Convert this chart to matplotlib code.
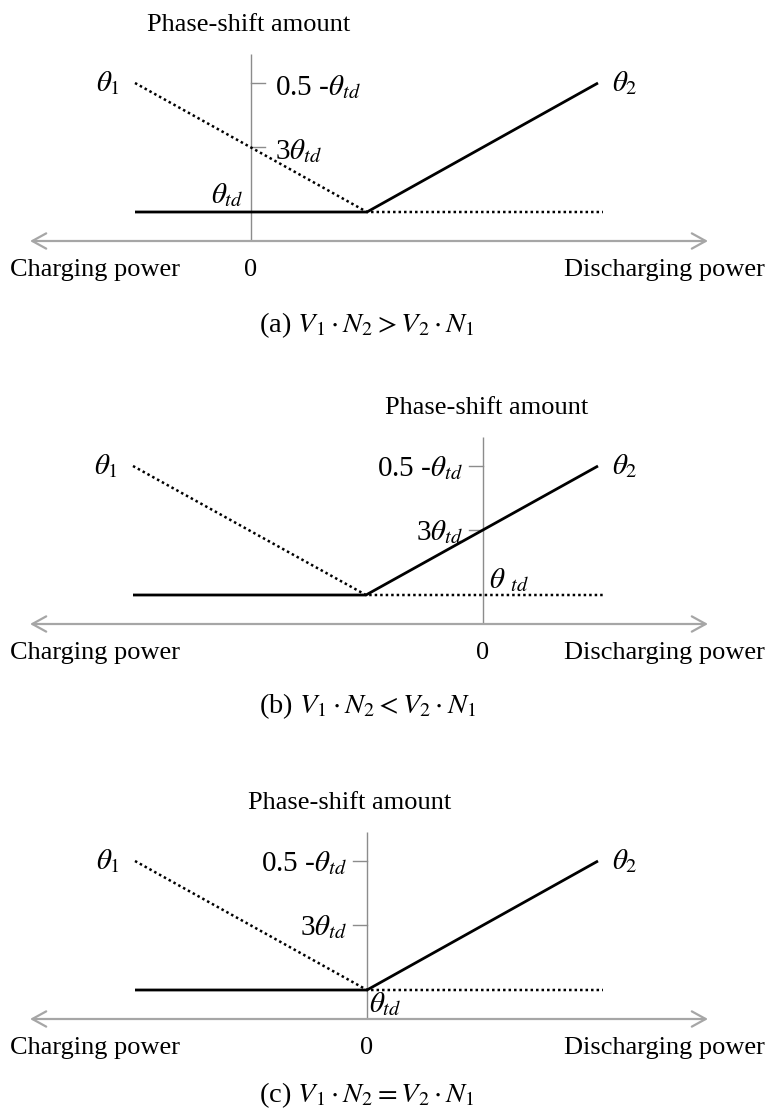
import matplotlib.pyplot as plt

plt.rcParams['font.family'] = ['Liberation Serif', 'DejaVu Serif']
plt.rcParams['mathtext.fontset'] = 'stix'

W, H = 768, 1111

# phase-shift levels (drawing units above the power axis)
theta_td = 29
theta_3td = 94
theta_max = 158          # 0.5 - theta_td

# power breakpoints per case (a), (b), (c)
left_power = [-116, -350, -232]
knee_power = [116, -117, 0]
right_power = [347, 115, 231]
axis_left = [-221, -453, -337]
axis_right = [457, 225, 341]

captions = [r'(a) $V_1 \cdot N_2 > V_2 \cdot N_1$',
            r'(b) $V_1 \cdot N_2 < V_2 \cdot N_1$',
            r'(c) $V_1 \cdot N_2 = V_2 \cdot N_1$']
tick_labels = [r'0.5 -$\theta_{td}$', r'3$\theta_{td}$']

# layout: where each diagram's origin sits on the page, and label offsets
origins = [(251, 241), (483, 624), (367, 1019)]
tick_side = ['right', 'left', 'left']
title_dx = [-2, 4, -17]
td_label_pos = [(-24, 46), (26, 44), (18, 15)]
caption_y = [325, 706, 1095]

fig = plt.figure(figsize=(W / 100, H / 100), dpi=100)
fig.patch.set_facecolor('white')

FS = 19      # plain text
MFS = 21     # symbol labels
gray = '#8c8c8c'

for i, (ox, oy) in enumerate(origins):
    ax = fig.add_axes([0, 0, 1, 1])
    ax.set_xlim(-ox, W - ox)
    ax.set_ylim(oy - H, oy)
    ax.axis('off')
    ax.patch.set_alpha(0)

    # power axis (double arrow) and phase axis
    ax.annotate('', xy=(axis_right[i], 0), xytext=(axis_left[i], 0),
                arrowprops=dict(arrowstyle='<->,head_length=1.0,head_width=0.55',
                                color='#a6a6a6', lw=1.6, shrinkA=0, shrinkB=0))
    ax.plot([0, 0], [0, 187], color=gray, lw=1.0, solid_capstyle='butt')

    # ticks on the phase axis
    d = 14 if tick_side[i] == 'right' else -14
    for lvl, lab in zip([theta_max, theta_3td], tick_labels):
        ax.plot([0, d], [lvl, lvl], color=gray, lw=1.0)
        if d > 0:
            ax.text(24, lvl - 4, lab, fontsize=MFS, ha='left', va='center')
        else:
            ax.text(-20, lvl - 2, lab, fontsize=MFS, ha='right', va='center')

    lp, kp, rp = left_power[i], knee_power[i], right_power[i]
    # theta_1: dotted
    ax.plot([lp, kp, rp + 5], [theta_max, theta_td, theta_td],
            color='black', lw=1.8, linestyle=(0, (1.0, 1.2)), dash_capstyle='butt')
    # theta_2: solid
    ax.plot([lp, kp, rp], [theta_td, theta_td, theta_max],
            color='black', lw=2.0, solid_capstyle='butt', solid_joinstyle='miter')

    ax.text(lp - 27, theta_max, r'$\theta_1$', fontsize=MFS, ha='center', va='center')
    ax.text(rp + 27, theta_max, r'$\theta_2$', fontsize=MFS, ha='center', va='center')
    tx, ty = td_label_pos[i]
    ax.text(tx, ty, r'$\theta_{td}$' if i != 1 else r'$\theta\ _{td}$',
            fontsize=MFS, ha='center', va='center')

    ax.text(title_dx[i], 216, 'Phase-shift amount', fontsize=FS, ha='center', va='center')
    ax.text(0, -29, '0', fontsize=FS, ha='center', va='center')
    ax.text(10 - ox, -29, 'Charging power', fontsize=FS, ha='left', va='center')
    ax.text(765 - ox, -29, 'Discharging power', fontsize=FS, ha='right', va='center')
    ax.text(259 - ox, oy - caption_y[i], captions[i], fontsize=20.5, ha='left', va='center')

fig.savefig('out.png', dpi=100, facecolor='white')
